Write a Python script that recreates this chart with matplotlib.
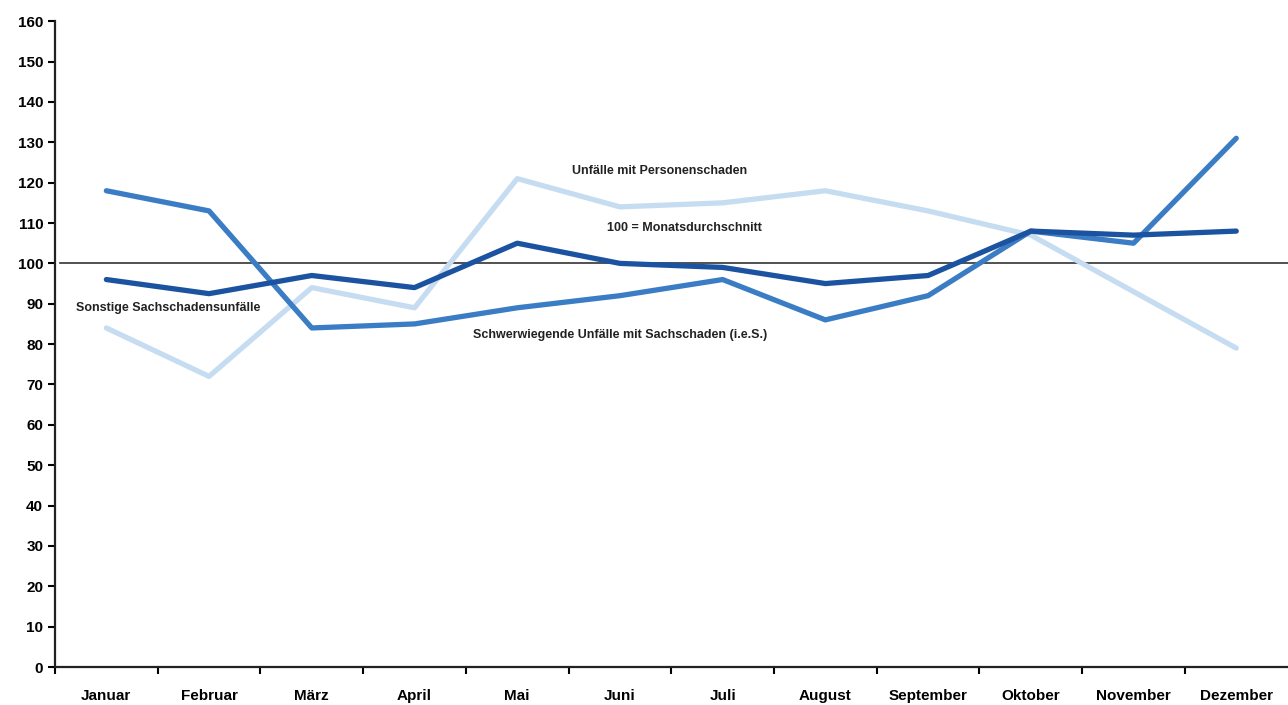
import matplotlib
matplotlib.use("Agg")
import matplotlib.pyplot as plt
from matplotlib import font_manager

# Months and index values (100 = Monatsdurchschnitt)
months = ["Januar", "Februar", "März", "April", "Mai", "Juni", "Juli",
          "August", "September", "Oktober", "November", "Dezember"]
personenschaden = [84, 72, 94, 89, 121, 114, 115, 118, 113, 107, 93, 79]
schwerwiegend = [118, 113, 84, 85, 89, 92, 96, 86, 92, 108, 105, 131]
sonstige = [96, 92.5, 97, 94, 105, 100, 99, 95, 97, 108, 107, 108]

names = {f.name for f in font_manager.fontManager.ttflist}
fam = ["Liberation Sans Narrow", "DejaVu Sans"] if "Liberation Sans Narrow" in names else ["Liberation Sans", "DejaVu Sans"]
plt.rcParams["font.family"] = fam

fig = plt.figure(figsize=(12.88, 7.05), dpi=100)
ax = fig.add_axes([0.0427, 0.0539, 0.957, 0.916])

x = list(range(len(months)))
ax.axhline(100, color="#333333", lw=1.2, xmin=0.004, zorder=1)
ax.plot(x, personenschaden, color="#c6dcf1", lw=3.8, solid_capstyle="round", zorder=2)
ax.plot(x, schwerwiegend, color="#3b7dc4", lw=3.8, solid_capstyle="round", zorder=3)
ax.plot(x, sonstige, color="#1c53a0", lw=3.8, solid_capstyle="round", zorder=4)

ax.set_xlim(-0.5, 11.5)
ax.set_ylim(0, 160)
ax.set_yticks(range(0, 161, 10))
ax.set_xticks([i - 0.5 for i in range(12)], minor=False)
ax.set_xticklabels([])
ax.set_xticks(x, minor=True)
ax.set_xticklabels(months, minor=True, fontsize=11, fontweight="bold")
ax.tick_params(axis="x", which="minor", length=0, pad=16)
ax.tick_params(axis="x", which="major", length=5, width=1.5, direction="out")
ax.tick_params(axis="y", length=5, width=1.5, direction="out", labelsize=11)
for lbl in ax.get_yticklabels():
    lbl.set_fontweight("bold")

for s in ["top", "right"]:
    ax.spines[s].set_visible(False)
for s in ["left", "bottom"]:
    ax.spines[s].set_linewidth(1.6)
    ax.spines[s].set_color("#222222")

tk = dict(fontsize=9, fontweight="bold", color="#222222", ha="center", va="center")
ax.text(5.39, 123, "Unfälle mit Personenschaden", **tk)
ax.text(5.63, 108.7, "100 = Monatsdurchschnitt", **tk)
ax.text(0.6, 88.9, "Sonstige Sachschadensunfälle", **tk)
ax.text(5.0, 82.2, "Schwerwiegende Unfälle mit Sachschaden (i.e.S.)", **tk)

fig.savefig("out.png", dpi=100)
